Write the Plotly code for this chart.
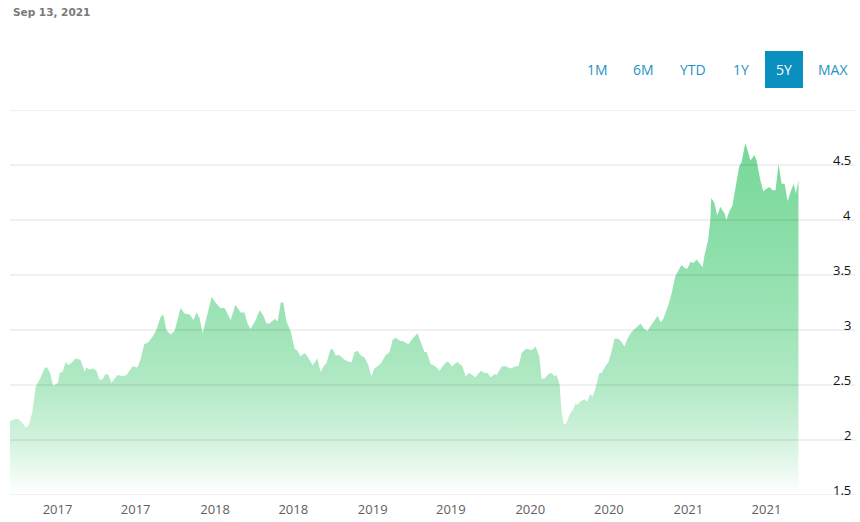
import plotly.graph_objects as go

dates = [
    "2016-09-13", "2016-09-25", "2016-10-02", "2016-10-11", "2016-10-20", "2016-10-27",
    "2016-11-03", "2016-11-12", "2016-11-21", "2016-12-03", "2016-12-08", "2016-12-15",
    "2016-12-22", "2017-01-02", "2017-01-06", "2017-01-13", "2017-01-20", "2017-01-26",
    "2017-02-02", "2017-02-12", "2017-02-23", "2017-03-05", "2017-03-09", "2017-03-16",
    "2017-03-25", "2017-04-01", "2017-04-08", "2017-04-15", "2017-04-22", "2017-04-29",
    "2017-05-06", "2017-05-20", "2017-06-01", "2017-06-10", "2017-06-24", "2017-07-05",
    "2017-07-12", "2017-07-21", "2017-07-31", "2017-08-11", "2017-08-18", "2017-08-28",
    "2017-09-03", "2017-09-10", "2017-09-20", "2017-09-29", "2017-10-06", "2017-10-13",
    "2017-10-22", "2017-11-03", "2017-11-12", "2017-11-19", "2017-11-26", "2017-12-03",
    "2017-12-10", "2017-12-19", "2017-12-24", "2018-01-02", "2018-01-13", "2018-01-23",
    "2018-01-27", "2018-02-06", "2018-02-17", "2018-03-01", "2018-03-10", "2018-03-17",
    "2018-03-24", "2018-04-05", "2018-04-14", "2018-04-23", "2018-04-30", "2018-05-07",
    "2018-05-19", "2018-05-26", "2018-06-02", "2018-06-08", "2018-06-15", "2018-06-25",
    "2018-07-04", "2018-07-11", "2018-07-18", "2018-07-27", "2018-08-03", "2018-08-15",
    "2018-08-26", "2018-09-02", "2018-09-11", "2018-09-16", "2018-09-25", "2018-09-30",
    "2018-10-07", "2018-10-16", "2018-10-28", "2018-11-08", "2018-11-13", "2018-11-20",
    "2018-11-27", "2018-12-04", "2018-12-13", "2018-12-22", "2018-12-29", "2019-01-05",
    "2019-01-19", "2019-01-31", "2019-02-09", "2019-02-16", "2019-02-23", "2019-03-06",
    "2019-03-11", "2019-03-25", "2019-04-03", "2019-04-15", "2019-04-22", "2019-05-01",
    "2019-05-06", "2019-05-15", "2019-05-26", "2019-06-05", "2019-06-12", "2019-06-21",
    "2019-06-26", "2019-07-03", "2019-07-16", "2019-07-28", "2019-08-04", "2019-08-13",
    "2019-08-27", "2019-09-08", "2019-09-17", "2019-09-24", "2019-10-01", "2019-10-11",
    "2019-10-15", "2019-10-27", "2019-11-05", "2019-11-17", "2019-11-28", "2019-12-05",
    "2019-12-12", "2019-12-22", "2019-12-31", "2020-01-06", "2020-01-13", "2020-01-22",
    "2020-01-27", "2020-02-03", "2020-02-12", "2020-02-19", "2020-02-26", "2020-03-02",
    "2020-03-09", "2020-03-13", "2020-03-18", "2020-03-23", "2020-04-01", "2020-04-08",
    "2020-04-15", "2020-04-19", "2020-04-26", "2020-05-05", "2020-05-12", "2020-05-19",
    "2020-05-24", "2020-05-31", "2020-06-09", "2020-06-14", "2020-06-23", "2020-06-30",
    "2020-07-07", "2020-07-14", "2020-07-23", "2020-07-30", "2020-08-06", "2020-08-13",
    "2020-08-22", "2020-09-01", "2020-09-12", "2020-09-21", "2020-09-28", "2020-10-08",
    "2020-10-15", "2020-10-22", "2020-10-29", "2020-11-04", "2020-11-16", "2020-11-23",
    "2020-12-02", "2020-12-12", "2020-12-16", "2020-12-25", "2020-12-30", "2021-01-06",
    "2021-01-13", "2021-01-20", "2021-01-27", "2021-02-03", "2021-02-07", "2021-02-16",
    "2021-02-21", "2021-02-23", "2021-03-02", "2021-03-09", "2021-03-16", "2021-03-26",
    "2021-03-30", "2021-04-06", "2021-04-13", "2021-04-20", "2021-04-29", "2021-05-04",
    "2021-05-13", "2021-05-20", "2021-05-25", "2021-06-03", "2021-06-08", "2021-06-17",
    "2021-06-24", "2021-06-29", "2021-07-08", "2021-07-15", "2021-07-22", "2021-07-29",
    "2021-08-05", "2021-08-12", "2021-08-19", "2021-08-26", "2021-09-02", "2021-09-07",
    "2021-09-13",
]

prices = [
    2.17, 2.19, 2.19, 2.16, 2.11, 2.14,
    2.24, 2.49, 2.55, 2.66, 2.66, 2.61,
    2.49, 2.52, 2.61, 2.62, 2.71, 2.68,
    2.70, 2.74, 2.73, 2.62, 2.66, 2.64,
    2.65, 2.63, 2.55, 2.55, 2.60, 2.59,
    2.52, 2.59, 2.58, 2.59, 2.67, 2.66,
    2.73, 2.87, 2.89, 2.95, 3.00, 3.12,
    3.14, 3.00, 2.96, 2.99, 3.09, 3.20,
    3.15, 3.14, 3.09, 3.16, 3.11, 2.97,
    3.08, 3.23, 3.30, 3.25, 3.20, 3.20,
    3.17, 3.09, 3.23, 3.16, 3.16, 3.06,
    3.01, 3.09, 3.18, 3.13, 3.06, 3.06,
    3.10, 3.08, 3.25, 3.25, 3.08, 2.99,
    2.83, 2.81, 2.76, 2.79, 2.76, 2.68,
    2.74, 2.62, 2.68, 2.70, 2.82, 2.83,
    2.77, 2.77, 2.73, 2.71, 2.71, 2.80,
    2.81, 2.77, 2.75, 2.68, 2.58, 2.65,
    2.69, 2.77, 2.80, 2.91, 2.93, 2.90,
    2.90, 2.87, 2.92, 2.97, 2.89, 2.80,
    2.80, 2.69, 2.67, 2.63, 2.67, 2.71,
    2.71, 2.67, 2.71, 2.67, 2.58, 2.61,
    2.57, 2.63, 2.61, 2.61, 2.57, 2.60,
    2.59, 2.67, 2.67, 2.65, 2.67, 2.67,
    2.79, 2.83, 2.82, 2.82, 2.85, 2.76,
    2.56, 2.56, 2.60, 2.61, 2.58, 2.59,
    2.50, 2.27, 2.15, 2.14, 2.23, 2.27,
    2.33, 2.32, 2.35, 2.37, 2.35, 2.42,
    2.39, 2.47, 2.61, 2.61, 2.67, 2.71,
    2.80, 2.92, 2.92, 2.89, 2.85, 2.92,
    2.98, 3.02, 3.06, 3.01, 2.99, 3.05,
    3.09, 3.13, 3.07, 3.10, 3.23, 3.33,
    3.49, 3.56, 3.59, 3.56, 3.56, 3.62,
    3.61, 3.64, 3.60, 3.57, 3.67, 3.82,
    4.00, 4.20, 4.16, 4.04, 4.12, 4.06,
    4.00, 4.08, 4.13, 4.29, 4.49, 4.52,
    4.70, 4.61, 4.54, 4.59, 4.54, 4.36,
    4.26, 4.28, 4.30, 4.27, 4.27, 4.51,
    4.33, 4.33, 4.17, 4.26, 4.33, 4.24,
    4.36,
]

x_tick_dates = [
    "2017-01-01", "2017-07-01", "2018-01-01", "2018-07-01", "2019-01-01",
    "2019-07-01", "2020-01-01", "2020-07-01", "2021-01-01", "2021-07-01",
]
x_tick_labels = ["2017", "2017", "2018", "2018", "2019", "2019", "2020", "2020", "2021", "2021"]

y_tick_values = [1.5, 2, 2.5, 3, 3.5, 4, 4.5, 5]
y_tick_labels = ["1.5", "2", "2.5", "3", "3.5", "4", "4.5", ""]

range_buttons = ["1M", "6M", "YTD", "1Y", "5Y", "MAX"]
active_button = "5Y"
as_of_label = "Sep 13, 2021"

W, H = 860, 522
ML, MR, MT, MB = 10, 5, 110, 27
PW, PH = W - ML - MR, H - MT - MB


def px_to_paper(px, py):
    """Convert page pixel position to paper coordinates."""
    return (px - ML) / PW, 1 - (py - MT) / PH


fig = go.Figure()

fig.add_trace(
    go.Scatter(
        x=dates,
        y=prices,
        mode="lines",
        line={"width": 0, "color": "rgba(46,196,99,0.6)"},
        fill="tozeroy",
        fillgradient={
            "type": "vertical",
            "start": 1.5,
            "stop": 4.7,
            "colorscale": [
                [0.0, "rgba(46,196,99,0.0)"],
                [0.16, "rgba(46,196,99,0.22)"],
                [0.31, "rgba(46,196,99,0.37)"],
                [0.5, "rgba(46,196,99,0.47)"],
                [1.0, "rgba(46,196,99,0.66)"],
            ],
        },
        hovertemplate="%{x|%b %d, %Y}<br>%{y:.2f}<extra></extra>",
        showlegend=False,
    )
)

annotations = []
shapes = []

# horizontal grid lines drawn over the area so they show through it,
# with the value sitting on top of each line at the right edge
for val, label in zip(y_tick_values, y_tick_labels):
    shapes.append(dict(type="line", xref="paper", yref="y", x0=0, x1=1, y0=val, y1=val,
                       line={"color": "rgba(0,0,0,0.12)", "width": 1}, layer="above"))
    if label:
        annotations.append(dict(
            x=1, y=val, xref="paper", yref="y", text=label, showarrow=False,
            xanchor="right", yanchor="bottom", xshift=-2, yshift=-6,
            font={"family": "Open Sans", "size": 13, "color": "#111111"},
        ))

# range buttons row (decorative, the 5Y view is shown)
button_centers = [597, 643, 693, 741, 784, 833]
for label, cx in zip(range_buttons, button_centers):
    ax, ay = px_to_paper(cx, 70)
    is_active = label == active_button
    annotations.append(dict(
        x=ax, y=ay, xref="paper", yref="paper", text=label, showarrow=False,
        xanchor="center", yanchor="middle",
        font={"family": "Open Sans", "size": 14,
              "color": "#ffffff" if is_active else "#1f93c6"},
    ))
    if is_active:
        x0, y0 = px_to_paper(765, 88)
        x1, y1 = px_to_paper(803, 51)
        shapes.append(dict(type="rect", xref="paper", yref="paper",
                           x0=x0, y0=y0, x1=x1, y1=y1,
                           fillcolor="#0a90bf", line={"width": 0}, layer="below"))

tx, ty = px_to_paper(11, 12)
annotations.append(dict(
    x=tx, y=ty, xref="paper", yref="paper", text=f"<b>{as_of_label}</b>",
    showarrow=False, xanchor="left", yanchor="middle",
    font={"family": "DejaVu Sans", "size": 10.5, "color": "#7a7a7a"},
))

fig.update_layout(
    width=W,
    height=H,
    margin={"l": ML, "r": MR, "t": MT, "b": MB},
    paper_bgcolor="white",
    plot_bgcolor="white",
    hovermode="x",
    annotations=annotations,
    shapes=shapes,
    xaxis={
        "type": "date",
        "range": ["2016-09-13", "2022-01-22"],
        "tickvals": x_tick_dates,
        "ticktext": x_tick_labels,
        "showgrid": False,
        "zeroline": False,
        "showline": False,
        "ticks": "",
        "ticklabelstandoff": 5,
        "tickfont": {"family": "Open Sans", "size": 13, "color": "#606060"},
        "fixedrange": True,
    },
    yaxis={
        "range": [1.5, 5],
        "side": "right",
        "showticklabels": False,
        "showgrid": False,
        "zeroline": False,
        "showline": False,
        "ticks": "",
        "fixedrange": True,
    },
)

fig.write_html(
    "out.html",
    config={"displayModeBar": False},
    post_script="document.body.style.margin = '0px';",
)
